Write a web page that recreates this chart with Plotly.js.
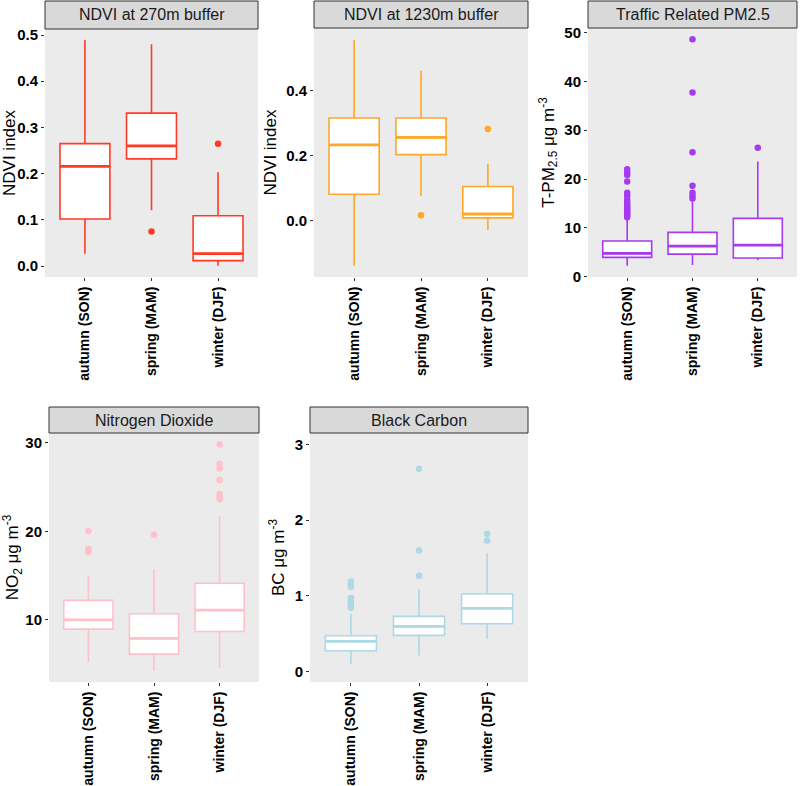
<!DOCTYPE html>
<html>
<head>
<meta charset="utf-8">
<script src="https://cdn.plot.ly/plotly-3.0.1.min.js"></script>
<style>html,body{margin:0;padding:0;background:#fff;}#chart{width:800px;height:786px;}</style>
</head>
<body>
<div id="chart"></div>
<script>
// ---- data ----
const seasons = ["autumn (SON)", "spring (MAM)", "winter (DJF)"];

const ndvi270_low = [0.027, 0.121, 0.001];
const ndvi270_q1 = [0.102, 0.232, 0.012];
const ndvi270_med = [0.216, 0.260, 0.027];
const ndvi270_q3 = [0.265, 0.331, 0.109];
const ndvi270_high = [0.489, 0.480, 0.203];
const ndvi270_out = [[], [0.075], [0.265]];

const ndvi1230_low = [-0.139, 0.076, -0.029];
const ndvi1230_q1 = [0.081, 0.203, 0.008];
const ndvi1230_med = [0.233, 0.256, 0.020];
const ndvi1230_q3 = [0.316, 0.316, 0.105];
const ndvi1230_high = [0.557, 0.461, 0.175];
const ndvi1230_out = [[], [0.016], [0.282]];

const pm_low = [2.25, 2.39, 3.40];
const pm_q1 = [3.96, 4.64, 3.83];
const pm_med = [4.78, 6.28, 6.49];
const pm_q3 = [7.31, 9.08, 11.95];
const pm_high = [11.9, 15.4, 23.6];
const pm_out = [
  [12.2, 12.6, 13.0, 13.3, 13.7, 14.0, 14.4, 14.7, 15.2, 15.7, 16.5, 17.2, 19.5, 20.8, 21.3, 22.0],
  [16.0, 16.6, 17.2, 18.6, 25.5, 37.7, 48.6],
  [26.4]
];

const no2_low = [5.2, 4.26, 4.52];
const no2_q1 = [8.95, 6.13, 8.69];
const no2_med = [10.0, 7.9, 11.09];
const no2_q3 = [12.2, 10.68, 14.13];
const no2_high = [15.0, 15.7, 21.7];
const no2_out = [
  [17.65, 18.0, 20.0],
  [19.6],
  [23.6, 23.9, 24.2, 25.8, 27.1, 27.6, 29.8]
];

const bc_low = [0.10, 0.21, 0.428];
const bc_q1 = [0.273, 0.476, 0.63];
const bc_med = [0.397, 0.595, 0.834];
const bc_q3 = [0.472, 0.728, 1.023];
const bc_high = [0.763, 1.09, 1.566];
const bc_out = [
  [0.84, 0.86, 0.88, 0.93, 0.97, 1.12, 1.15, 1.19],
  [1.266, 1.60, 2.68],
  [1.73, 1.82]
];

const panelTitles = ["NDVI at 270m buffer", "NDVI at 1230m buffer", "Traffic Related PM2.5", "Nitrogen Dioxide", "Black Carbon"];
const yTitles = ["NDVI index", "NDVI index", "T-PM<sub>2.5</sub> μg m<sup>-3</sup>", "NO<sub>2</sub> μg m<sup>-3</sup>", "BC μg m<sup>-3</sup>"];
const colors = ["#FF3A26", "#FFA726", "#A63AF0", "#FFC0CB", "#ADD8E6"];

// ---- build ----
const panels = [
  {low: ndvi270_low, q1: ndvi270_q1, med: ndvi270_med, q3: ndvi270_q3, high: ndvi270_high, out: ndvi270_out},
  {low: ndvi1230_low, q1: ndvi1230_q1, med: ndvi1230_med, q3: ndvi1230_q3, high: ndvi1230_high, out: ndvi1230_out},
  {low: pm_low, q1: pm_q1, med: pm_med, q3: pm_q3, high: pm_high, out: pm_out},
  {low: no2_low, q1: no2_q1, med: no2_med, q3: no2_q3, high: no2_high, out: no2_out},
  {low: bc_low, q1: bc_q1, med: bc_med, q3: bc_q3, high: bc_high, out: bc_out}
];

const W = 800, H = 786;
const geom = [
  {l: 45, r: 258, t: 29, b: 277, st: 1},
  {l: 314, r: 528, t: 28, b: 277, st: 1},
  {l: 588, r: 797, t: 28, b: 277, st: 1},
  {l: 49, r: 259, t: 433, b: 682, st: 407},
  {l: 310, r: 528, t: 433, b: 682, st: 407}
];
const yRanges = [[-0.0234, 0.513], [-0.174, 0.593], [-0.05, 50.9], [2.98, 31.1], [-0.141, 3.154]];
const yDtick = [0.1, 0.2, 10, 10, 1];
const yFormat = [".1f", ".1f", "d", "d", "d"];

const traces = [];
const layout = {
  width: W, height: H,
  margin: {l: 0, r: 0, t: 0, b: 0},
  paper_bgcolor: "#ffffff",
  showlegend: false,
  boxmode: "overlay",
  font: {family: "Liberation Sans, Arial, sans-serif", color: "#000"},
  shapes: [],
  annotations: []
};

panels.forEach((p, i) => {
  const n = i + 1;
  const xa = n === 1 ? "x" : "x" + n;
  const ya = n === 1 ? "y" : "y" + n;
  const c = colors[i];
  traces.push({
    type: "box", xaxis: xa, yaxis: ya,
    x: seasons, q1: p.q1, median: p.med, q3: p.q3, lowerfence: p.low, upperfence: p.high,
    boxpoints: false, width: 0.75, whiskerwidth: 0,
    line: {color: c, width: 1.6}, fillcolor: "#ffffff", hoverinfo: "skip"
  });
  traces.push({
    type: "box", xaxis: xa, yaxis: ya,
    x: seasons, q1: p.med, median: p.med, q3: p.med, lowerfence: p.med, upperfence: p.med,
    boxpoints: false, width: 0.75, whiskerwidth: 0,
    line: {color: c, width: 2.8}, fillcolor: "rgba(0,0,0,0)", hoverinfo: "skip"
  });
  const ox = [], oy = [];
  p.out.forEach((arr, k) => arr.forEach(v => { ox.push(seasons[k]); oy.push(v); }));
  traces.push({
    type: "scatter", mode: "markers", xaxis: xa, yaxis: ya,
    x: ox, y: oy, marker: {color: c, size: 6.5}, hoverinfo: "skip"
  });

  const g = geom[i];
  const xk = n === 1 ? "xaxis" : "xaxis" + n;
  const yk = n === 1 ? "yaxis" : "yaxis" + n;
  layout[xk] = {
    domain: [g.l / W, g.r / W], anchor: ya,
    type: "category", categoryorder: "array", categoryarray: seasons,
    range: [-0.6, 2.6], showgrid: false, zeroline: false, showline: false,
    ticks: "outside", ticklen: 3, tickcolor: "#333", tickwidth: 1,
    tickangle: -90, tickfont: {size: 14, weight: "bold", color: "#000"},
    fixedrange: true
  };
  layout[yk] = {
    domain: [1 - g.b / H, 1 - g.t / H], anchor: xa,
    range: yRanges[i], tick0: 0, dtick: yDtick[i], tickformat: yFormat[i],
    showgrid: false, zeroline: false, showline: false,
    ticks: "outside", ticklen: 3, tickcolor: "#333", tickwidth: 1,
    tickfont: {size: 15, weight: "bold", color: "#000"},
    title: {text: yTitles[i], font: {size: 17, color: "#000"}, standoff: 5},
    fixedrange: true
  };
  layout.shapes.push({
    type: "rect", xref: "paper", yref: "paper", layer: "below",
    x0: g.l / W, x1: g.r / W, y0: 1 - g.b / H, y1: 1 - g.t / H,
    fillcolor: "#EBEBEB", line: {width: 0}
  });
  layout.shapes.push({
    type: "rect", xref: "paper", yref: "paper",
    x0: g.l / W, x1: g.r / W, y0: 1 - g.t / H, y1: 1 - g.st / H,
    fillcolor: "#D9D9D9", line: {color: "#333333", width: 1}
  });
  layout.annotations.push({
    xref: "paper", yref: "paper", showarrow: false,
    x: (g.l + g.r) / 2 / W, y: 1 - (g.t + g.st) / 2 / H,
    xanchor: "center", yanchor: "middle",
    text: panelTitles[i], font: {size: 16, color: "#1A1A1A"}
  });
});

Plotly.newPlot("chart", traces, layout, {staticPlot: true, displayModeBar: false});
</script>
</body>
</html>
